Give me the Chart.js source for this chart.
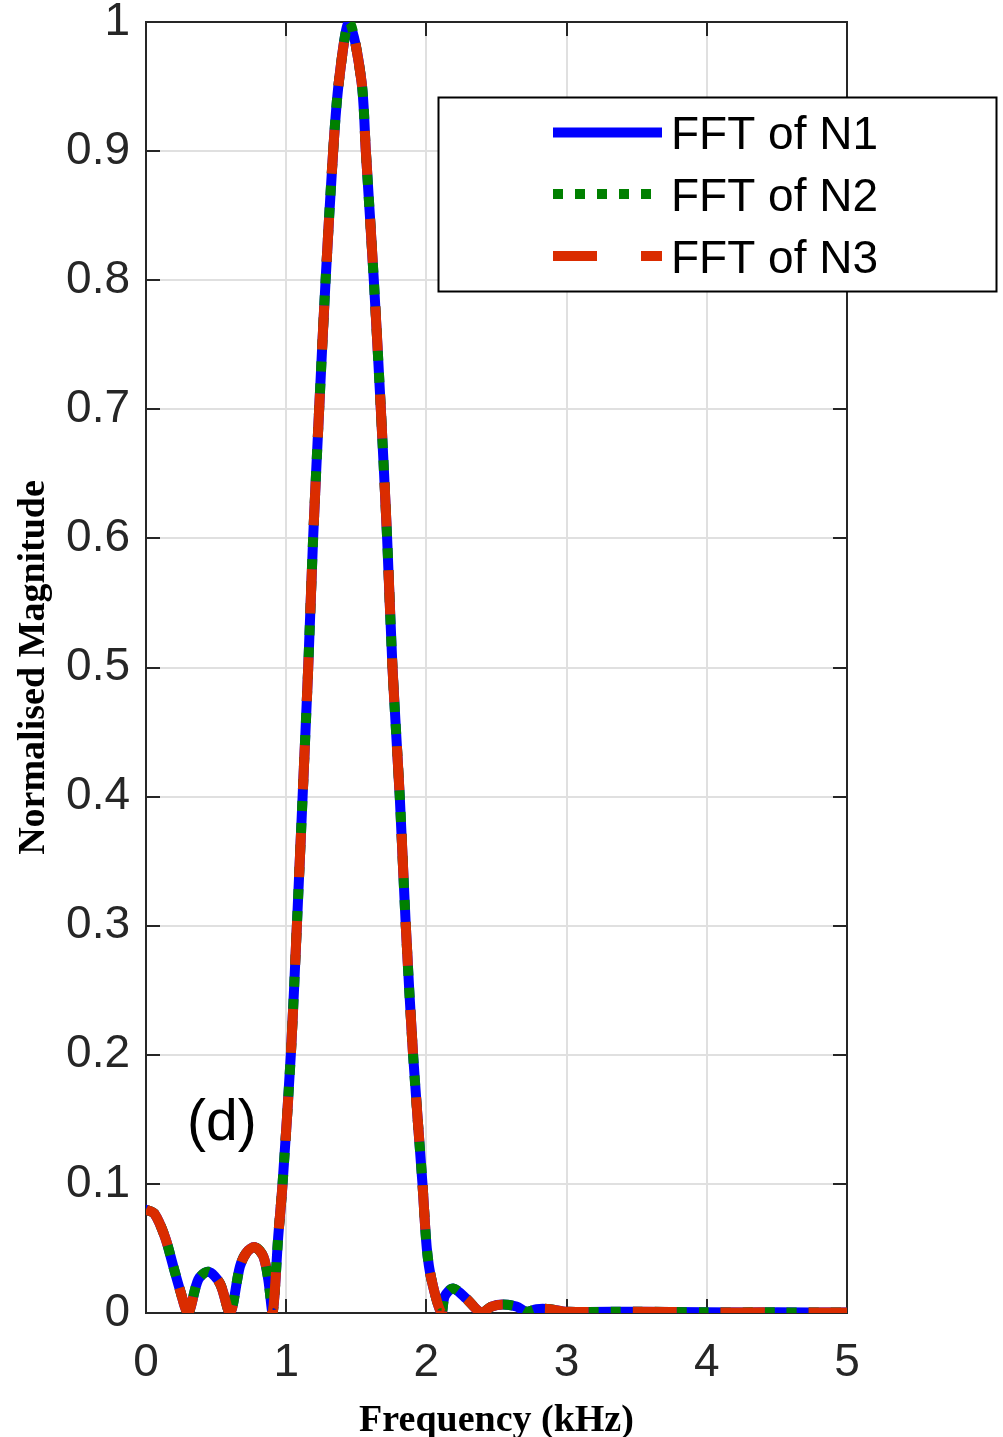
<!DOCTYPE html>
<html>
<head>
<meta charset="utf-8">
<script src="https://cdn.jsdelivr.net/npm/chart.js@4.4.1/dist/chart.umd.min.js"></script>
<style>
  html, body { margin: 0; padding: 0; background: #ffffff; }
  #wrap { position: relative; width: 1003px; height: 1437px; }
  canvas { display: block; }
</style>
</head>
<body>
<div id="wrap"><canvas id="c" width="1003" height="1437"></canvas></div>
<script>
// ---- data ----
const freq = [0.000, 0.060, 0.135, 0.195, 0.242, 0.300, 0.373, 0.444, 0.527, 0.599,
              0.670, 0.718, 0.777, 0.836, 0.872, 0.903, 0.943, 0.974, 1.033, 1.074,
              1.117, 1.157, 1.192, 1.235, 1.281, 1.335, 1.376, 1.449, 1.537, 1.568,
              1.625, 1.675, 1.720, 1.758, 1.810, 1.853, 1.905, 1.972, 2.003, 2.036,
              2.108, 2.131, 2.190, 2.286, 2.393, 2.464, 2.547, 2.642, 2.713, 2.785,
              2.880, 3.000, 3.500, 4.000, 4.500, 5.000];
const magN1 = [0.080, 0.077, 0.059, 0.036, 0.018, 0.000, 0.026, 0.032, 0.023, 0.000,
               0.036, 0.047, 0.051, 0.044, 0.026, 0.000, 0.059, 0.100, 0.200, 0.295,
               0.400, 0.500, 0.600, 0.700, 0.800, 0.900, 0.954, 1.000, 0.954, 0.900,
               0.800, 0.700, 0.600, 0.500, 0.400, 0.300, 0.200, 0.100, 0.050, 0.026,
               0.000, 0.013, 0.019, 0.011, 0.000, 0.005, 0.0066, 0.005, 0.001, 0.003,
               0.003, 0.001, 0.001, 0.0005, 0.0005, 0.0003];
const magN2 = magN1.slice();
const magN3 = magN1.slice();
const seriesNames = ['FFT of N1', 'FFT of N2', 'FFT of N3'];
const seriesColors = ['#0000ff', '#008000', '#da2c00'];
const xTicks = [0, 1, 2, 3, 4, 5];
const yTickStep = 0.1;
const xTitle = 'Frequency (kHz)';
const yTitle = 'Normalised Magnitude';
const panelLabel = '(d)';

const pts = arr => freq.map((f, i) => ({x: f, y: arr[i]}));
const dashes = [[], [10, 12], [44, 44]];

const axisColor = '#262626';

const framePlugin = {
  id: 'frame',
  beforeDatasetsDraw(chart) {
    const {ctx, chartArea: a, scales} = chart;
    ctx.save();
    ctx.strokeStyle = axisColor;
    ctx.lineWidth = 2;
    ctx.strokeRect(a.left, a.top, a.right - a.left, a.bottom - a.top);
    const tl = 14;
    ctx.beginPath();
    scales.y.ticks.forEach(t => {
      const py = Math.round(scales.y.getPixelForValue(t.value));
      ctx.moveTo(a.left, py); ctx.lineTo(a.left + tl, py);
      ctx.moveTo(a.right, py); ctx.lineTo(a.right - tl, py);
    });
    scales.x.ticks.forEach(t => {
      const px = Math.round(scales.x.getPixelForValue(t.value));
      ctx.moveTo(px, a.bottom); ctx.lineTo(px, a.bottom - tl);
      ctx.moveTo(px, a.top); ctx.lineTo(px, a.top + tl);
    });
    ctx.stroke();
    ctx.restore();
  },
  afterDraw(chart) {
    const {ctx} = chart;
    ctx.save();
    // panel label
    ctx.fillStyle = '#000000';
    ctx.font = '57px "Liberation Sans", Arial, sans-serif';
    ctx.textAlign = 'left';
    ctx.textBaseline = 'alphabetic';
    ctx.fillText(panelLabel, 187, 1140);
    // legend
    const bx = 438.5, by = 97.5, bw = 558, bh = 194;
    ctx.fillStyle = '#ffffff';
    ctx.fillRect(bx, by, bw, bh);
    ctx.strokeStyle = '#000000';
    ctx.lineWidth = 2;
    ctx.strokeRect(bx, by, bw, bh);
    const rows = [132.5, 194, 256];
    seriesNames.forEach((name, i) => {
      ctx.save();
      ctx.strokeStyle = seriesColors[i];
      ctx.lineWidth = 10;
      ctx.lineCap = 'butt';
      ctx.setLineDash(dashes[i]);
      ctx.beginPath();
      ctx.moveTo(553, rows[i]);
      ctx.lineTo(662, rows[i]);
      ctx.stroke();
      ctx.restore();
      ctx.fillStyle = '#000000';
      ctx.font = '46px "Liberation Sans", Arial, sans-serif';
      ctx.textBaseline = 'middle';
      ctx.fillText(name, 671, rows[i] + 4);
    });
    ctx.restore();
  }
};

new Chart(document.getElementById('c'), {
  type: 'line',
  data: {
    datasets: [
      {label: seriesNames[0], data: pts(magN1), borderColor: seriesColors[0], borderWidth: 10,
       borderCapStyle: 'round', borderJoinStyle: 'round', order: 3},
      {label: seriesNames[1], data: pts(magN2), borderColor: seriesColors[1], borderWidth: 10,
       borderDash: dashes[1], borderCapStyle: 'butt', borderJoinStyle: 'round', order: 2},
      {label: seriesNames[2], data: pts(magN3), borderColor: seriesColors[2], borderWidth: 10,
       borderDash: dashes[2], borderCapStyle: 'butt', borderJoinStyle: 'round', order: 1}
    ]
  },
  options: {
    responsive: false,
    animation: false,
    devicePixelRatio: 1,
    layout: {padding: {left: 0, right: 156, top: 22, bottom: 0}},
    elements: {point: {radius: 0, hoverRadius: 0}, line: {tension: 0.3, fill: false}},
    plugins: {legend: {display: false}, tooltip: {enabled: false}},
    scales: {
      x: {
        type: 'linear', min: 0, max: 5,
        afterBuildTicks: s => { s.ticks = xTicks.map(v => ({value: v})); },
        afterFit: s => { s.height = 124; s.paddingLeft = 0; s.paddingRight = 0; },
        grid: {color: '#e0e0e0', lineWidth: 2, drawTicks: false},
        border: {display: false},
        ticks: {padding: 23, color: axisColor, font: {family: '"Liberation Sans", Arial, sans-serif', size: 46},
                maxRotation: 0, callback: v => String(v)},
        title: {display: true, text: xTitle, color: '#000000', padding: {top: 0, bottom: -3},
                font: {family: '"Liberation Serif", "Times New Roman", serif', size: 38, weight: 'bold', lineHeight: 1}}
      },
      y: {
        type: 'linear', min: 0, max: 1,
        ticks: {stepSize: yTickStep, padding: 16, color: axisColor,
                font: {family: '"Liberation Sans", Arial, sans-serif', size: 46},
                callback: v => String(Math.round(v * 10) / 10)},
        afterFit: s => { s.width = 146; s.paddingTop = 0; s.paddingBottom = 0; },
        grid: {color: '#e0e0e0', lineWidth: 2, drawTicks: false},
        border: {display: false},
        title: {display: true, text: yTitle, color: '#000000', padding: {top: 15, bottom: 0},
                font: {family: '"Liberation Serif", "Times New Roman", serif', size: 38, weight: 'bold', lineHeight: 1}}
      }
    }
  },
  plugins: [framePlugin]
});
</script>
</body>
</html>
